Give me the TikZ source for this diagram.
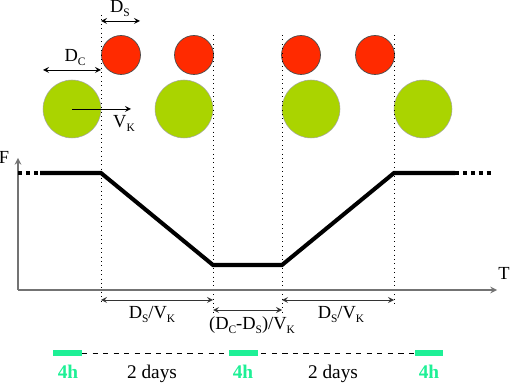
\documentclass[tikz,border=0pt]{standalone}
\usepackage{fontspec}
\setmainfont{Liberation Serif}
\usetikzlibrary{arrows.meta,positioning}
\definecolor{spotred}{RGB}{255,42,0}
\definecolor{spotgreen}{RGB}{170,212,0}
\definecolor{barcyan}{RGB}{30,240,150}
\newcommand{\lo}[1]{\raisebox{-0.45ex}{\fontsize{6.5}{7}\selectfont #1}}

\begin{document}
\begin{tikzpicture}[x=0.02cm, y=-0.02cm, >=stealth, font=\fontsize{10.5}{12}\selectfont,
    smallball/.style={circle, draw=black!70, fill=spotred, minimum size=0.78cm, inner sep=0pt, line width=0.4pt},
    bigball/.style={circle, draw=black!35, fill=spotgreen, minimum size=1.16cm, inner sep=0pt, line width=0.3pt},
    guide/.style={dotted, line width=0.5pt},
    dimarrow/.style={<->, line width=0.5pt, black!80},
    profile/.style={line width=2.3pt},
    bar/.style={barcyan, line width=3pt},
    lbl/.style={anchor=base, inner sep=0pt},
    hours/.style={lbl, barcyan, font=\bfseries\fontsize{11}{13}\selectfont}]
    \useasboundingbox (0,0) rectangle (510,384);

    % Red balls
    \node[smallball] (S1) at (121,55) {};
    \node[smallball] (S2) at (194,55) {};
    \node[smallball] (S3) at (301,55) {};
    \node[smallball] (S4) at (375,55) {};

    % Green balls
    \node[bigball] (C1) at (72,109) {};
    \node[bigball] (C2) at (184,109) {};
    \node[bigball] (C3) at (311,109) {};
    \node[bigball] (C4) at (423,109) {};

    % Guide lines
    \coordinate (G1t) at (101,15);  \coordinate (G1b) at (101,303);
    \coordinate (G2t) at (213,35);  \coordinate (G2b) at (213,312);
    \coordinate (G3t) at (282,35);  \coordinate (G3b) at (282,312);
    \coordinate (G4t) at (394,35);  \coordinate (G4b) at (394,303);
    \draw[guide] (G1t) -- (G1b);
    \draw[guide] (G2t) -- (G2b);
    \draw[guide] (G3t) -- (G3b);
    \draw[guide] (G4t) -- (G4b);

    % Sizes and speed
    \coordinate (DCa) at (43,70);  \coordinate (DCb) at (101,70);
    \draw[dimarrow, black] (DCa) -- (DCb);
    \node[lbl] (DC) at (75,62) {D\lo{C}};
    \coordinate (DSa) at (101,21); \coordinate (DSb) at (140,21);
    \draw[dimarrow, black] (DSa) -- (DSb);
    \node[lbl] (DS) at (120,13) {D\lo{S}};
    \coordinate (VK) at (131,109);
    \draw[->, line width=0.5pt] (C1.center) -- (VK);
    \node[lbl] (VKlabel) at (124,128) {V\lo{K}};

    % Axes
    \coordinate (O) at (18,290);
    \coordinate (Ftop) at (18,158);
    \coordinate (Tend) at (497,290);
    \draw[->, black!55, line width=0.7pt] (O) -- (Ftop);
    \draw[->, black!55, line width=0.7pt] (O) -- (Tend);
    \node[lbl] (F) at (4,164) {F};
    \node[lbl] (T) at (504,280) {T};

    % Force profile
    \coordinate (P0) at (18,173);
    \coordinate (P1) at (40,173);
    \coordinate (P2) at (101,173);
    \coordinate (P3) at (213,265);
    \coordinate (P4) at (282,265);
    \coordinate (P5) at (394,173);
    \coordinate (P6) at (455,173);
    \coordinate (P7) at (492,173);
    \draw[profile, dash pattern=on 2.5pt off 2pt] (P0) -- (P1);
    \draw[profile] (P1) -- (P2) -- (P3) -- (P4) -- (P5) -- (P6);
    \draw[profile, dash pattern=on 2.5pt off 2pt] (P6) -- (P7);

    % Durations
    \coordinate (D1a) at (101,300); \coordinate (D1b) at (213,300);
    \coordinate (D2a) at (213,310); \coordinate (D2b) at (282,310);
    \coordinate (D3a) at (282,300); \coordinate (D3b) at (394,300);
    \draw[dimarrow] (D1a) -- (D1b);
    \draw[dimarrow] (D2a) -- (D2b);
    \draw[dimarrow] (D3a) -- (D3b);
    \node[lbl] (L1) at (152,319) {D\lo{S}/V\lo{K}};
    \node[lbl] (L2) at (252,330) {(D\lo{C}-D\lo{S})/V\lo{K}};
    \node[lbl] (L3) at (341,319) {D\lo{S}/V\lo{K}};

    % Timeline
    \coordinate (B1a) at (53,353);  \coordinate (B1b) at (82,353);
    \coordinate (B2a) at (229,353); \coordinate (B2b) at (258,353);
    \coordinate (B3a) at (415,353); \coordinate (B3b) at (443,353);
    \draw[dashed, line width=0.4pt] (B1b) -- (B3a);
    \draw[bar] (B1a) -- (B1b);
    \draw[bar] (B2a) -- (B2b);
    \draw[bar] (B3a) -- (B3b);
    \node[hours] (H1) at (68,378) {4h};
    \node[hours] (H2) at (243,378) {4h};
    \node[hours] (H3) at (429,378) {4h};
    \node[lbl, font=\fontsize{11}{13}\selectfont] (W1) at (152,378) {2 days};
    \node[lbl, font=\fontsize{11}{13}\selectfont] (W2) at (333,378) {2 days};
\end{tikzpicture}
\end{document}
